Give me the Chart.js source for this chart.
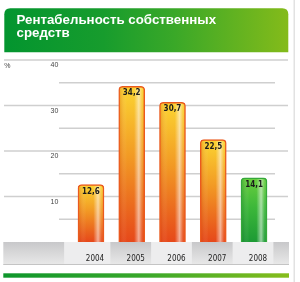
<!DOCTYPE html>
<html>
<head>
<meta charset="utf-8">
<script src="https://cdn.jsdelivr.net/npm/chart.js@4.4.0/dist/chart.umd.min.js"></script>
<style>
  html, body { margin: 0; padding: 0; background: #ffffff; }
  #c { display: block; }
</style>
</head>
<body>
<canvas id="c" width="300" height="282"></canvas>
<script>
// ---------- DATA ----------
const titleLines = ['Рентабельность собственных', 'средств'];
const unitLabel = '%';
const categories = ['2004', '2005', '2006', '2007', '2008'];
const values = [12.6, 34.2, 30.7, 22.5, 14.1];
const yMajorTicks = [10, 20, 30, 40];
const yMinorTicks = [5, 15, 25, 35];
const yMin = 0;
const yMax = 40;

// ---------- STYLES ----------
const barKinds = ['orange', 'orange', 'orange', 'orange', 'green'];
const palettes = {
  orange: { top: '#fbd532', mid: '#f29a24', bottom: '#e6481a', border: '#ea5a1e', shade: 'rgba(200,50,0,0.22)' },
  green:  { top: '#6acf3e', mid: '#3db83a', bottom: '#1c9a34', border: '#35a83a', shade: 'rgba(0,90,20,0.22)' }
};
const narrow = "'Liberation Sans Narrow', 'DejaVu Sans Condensed', 'Liberation Sans', sans-serif";
const gridColor = '#cfcfcf';

function fmt(v) { return String(v).replace('.', ','); }

const decorPlugin = {
  id: 'decor',
  beforeDraw(chart) {
    const c = chart.ctx;
    const xs = chart.scales.x;
    c.save();
    c.fillStyle = '#ffffff';
    c.fillRect(0, 0, chart.width, chart.height);

    // right border line
    c.fillStyle = '#e2e2e2';
    c.fillRect(293.5, 0, 1.5, chart.height);

    // banner
    const bx = 4.3, by = 8.3, bw = 284, bh = 44, r = 6;
    const g = c.createLinearGradient(bx, 0, bx + bw, 0);
    g.addColorStop(0, '#03952f');
    g.addColorStop(0.35, '#179c2d');
    g.addColorStop(0.6, '#3aa828');
    g.addColorStop(1, '#84bb1a');
    c.fillStyle = g;
    c.beginPath();
    c.moveTo(bx, by + bh);
    c.lineTo(bx, by + r);
    c.quadraticCurveTo(bx, by, bx + r, by);
    c.lineTo(bx + bw - r, by);
    c.quadraticCurveTo(bx + bw, by, bx + bw, by + r);
    c.lineTo(bx + bw, by + bh);
    c.closePath();
    c.fill();

    // title text
    c.fillStyle = '#ffffff';
    c.font = "bold 13.3px 'Liberation Sans', Arial, sans-serif";
    c.textAlign = 'left';
    c.textBaseline = 'alphabetic';
    c.fillText(titleLines[0], 16.5, 23.5);
    c.fillText(titleLines[1], 16.5, 36.5);

    // bottom band (floor)
    const top = chart.chartArea.bottom;
    const bandB = 265;
    const bg = c.createLinearGradient(0, top, 0, bandB);
    bg.addColorStop(0, '#c8c8ca');
    bg.addColorStop(1, '#e9e9e9');
    c.fillStyle = bg;
    c.fillRect(3.3, top, 289 - 3.3, bandB - top);
    const catW = xs.width / categories.length;
    c.fillStyle = '#ededee';
    categories.forEach((cat, i) => {
      if (i % 2 !== 0) return;
      const cx = xs.getPixelForValue(i);
      let l = cx - catW / 2, rr = cx + catW / 2;
      if (i === 0) l -= 5.5;
      c.fillRect(l - 1, top, rr - l, bandB - top);
    });
    c.fillStyle = '#c4c4c4';
    c.fillRect(3.3, bandB - 1, 289 - 3.3, 1);

    // bottom green stripe
    const sg = c.createLinearGradient(3.3, 0, 289, 0);
    sg.addColorStop(0, '#0e962c');
    sg.addColorStop(0.5, '#3aa82a');
    sg.addColorStop(1, '#86bd1c');
    c.fillStyle = sg;
    c.fillRect(3.3, 273.3, 289 - 3.3, 4.4);

    // unit label
    c.fillStyle = '#444444';
    c.font = "7px 'Liberation Sans', Arial, sans-serif";
    c.textBaseline = 'middle';
    c.fillText(unitLabel, 4.3, 66);
    c.restore();
  },
  beforeDatasetsDraw(chart) {
    const c = chart.ctx;
    const ys = chart.scales.y;
    c.save();
    c.strokeStyle = gridColor;
    c.lineWidth = 1.6;
    yMajorTicks.forEach(v => {
      const y = ys.getPixelForValue(v);
      c.beginPath(); c.moveTo(4, y); c.lineTo(288, y); c.stroke();
    });
    yMinorTicks.forEach(v => {
      const y = ys.getPixelForValue(v);
      c.beginPath(); c.moveTo(59, y); c.lineTo(275, y); c.stroke();
    });
    c.restore();
  },
  afterDatasetsDraw(chart) {
    const c = chart.ctx;
    const meta = chart.getDatasetMeta(0);
    c.save();
    meta.data.forEach((bar, i) => {
      const p = bar.getProps(['x', 'y', 'base', 'width'], true);
      const pal = palettes[barKinds[i]];
      const l = p.x - p.width / 2 + 1.2, rgt = p.x + p.width / 2 - 1.2;
      const t = p.y + 1.5, b = p.base;
      const hg = c.createLinearGradient(l, 0, rgt, 0);
      hg.addColorStop(0, pal.shade);
      hg.addColorStop(0.3, 'rgba(255,255,255,0)');
      hg.addColorStop(0.6, 'rgba(255,255,255,0)');
      hg.addColorStop(0.8, 'rgba(255,255,255,0.55)');
      hg.addColorStop(0.93, 'rgba(255,255,255,0.12)');
      hg.addColorStop(1, 'rgba(255,255,255,0)');
      c.fillStyle = hg;
      c.beginPath();
      c.moveTo(l, b);
      c.lineTo(l, t + 3);
      c.quadraticCurveTo(l, t, l + 3, t);
      c.lineTo(rgt - 3, t);
      c.quadraticCurveTo(rgt, t, rgt, t + 3);
      c.lineTo(rgt, b);
      c.closePath();
      c.fill();

      c.fillStyle = '#1c1c1c';
      c.font = 'bold 8px ' + narrow;
      c.textAlign = 'center';
      c.textBaseline = 'middle';
      c.fillText(fmt(values[i]), p.x, p.y + 7);
    });
    c.restore();
  }
};

new Chart(document.getElementById('c'), {
  type: 'bar',
  data: {
    labels: categories,
    datasets: [{
      data: values,
      barThickness: 26,
      borderWidth: 1.5,
      borderSkipped: 'bottom',
      borderRadius: { topLeft: 4, topRight: 4, bottomLeft: 0, bottomRight: 0 },
      borderColor: ctx => palettes[barKinds[ctx.dataIndex] || 'orange'].border,
      backgroundColor: ctx => {
        const chart = ctx.chart;
        const pal = palettes[barKinds[ctx.dataIndex] || 'orange'];
        if (!chart.chartArea || ctx.type !== 'data' || !ctx.parsed) return pal.mid;
        const ys = chart.scales.y;
        const top = ys.getPixelForValue(ctx.parsed.y);
        const base = ys.getPixelForValue(0);
        const g = chart.ctx.createLinearGradient(0, top, 0, base);
        g.addColorStop(0, pal.top);
        g.addColorStop(0.45, pal.mid);
        g.addColorStop(1, pal.bottom);
        return g;
      }
    }]
  },
  options: {
    responsive: false,
    animation: false,
    devicePixelRatio: 1,
    layout: { padding: { top: 60, left: 4, right: 25.6, bottom: 10 } },
    plugins: {
      legend: { display: false },
      title: { display: false },
      tooltip: { enabled: false }
    },
    scales: {
      x: {
        type: 'category',
        offset: true,
        grid: { display: false, drawTicks: false },
        border: { display: false },
        ticks: {
          color: '#222222',
          font: { family: narrow, size: 8 },
          padding: 12.5,
          labelOffset: 4,
          maxRotation: 0,
          autoSkip: false
        },
        afterFit: s => { s.height = 30; }
      },
      y: {
        min: yMin,
        max: yMax,
        grid: { display: false, drawTicks: false },
        border: { display: false },
        afterBuildTicks: s => { s.ticks = yMajorTicks.map(v => ({ value: v })); },
        ticks: {
          color: '#444444',
          font: { family: "'Liberation Sans', Arial, sans-serif", size: 7 },
          padding: 12.3,
          labelOffset: 5.5
        },
        afterFit: s => { s.width = 66.6; }
      }
    }
  },
  plugins: [decorPlugin]
});
</script>
</body>
</html>
